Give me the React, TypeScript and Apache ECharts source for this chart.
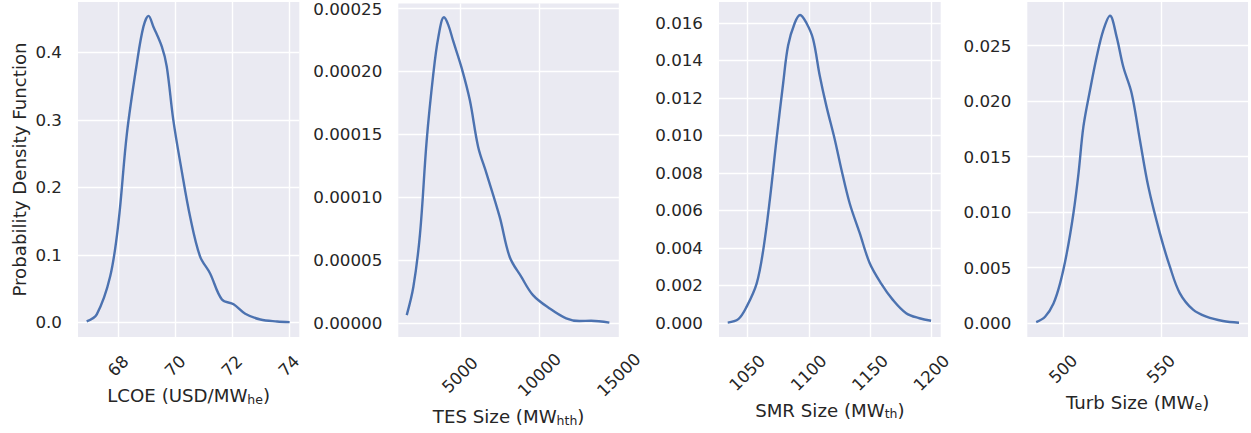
import React, { useEffect, useRef } from "react";
import * as echarts from "echarts";

// Panel 1: LCOE (USD/MWhe)
const LCOE_X = [66.885, 67.24, 67.71, 68.0, 68.3, 68.65, 68.88, 69.06, 69.23, 69.53, 69.7, 69.93, 70.22, 70.52, 70.87, 71.22, 71.64, 72.05, 72.46, 72.99, 73.58, 74.02];
const LCOE_Y = [0.0015, 0.012, 0.068, 0.147, 0.28, 0.384, 0.438, 0.454, 0.438, 0.408, 0.379, 0.3, 0.226, 0.157, 0.098, 0.073, 0.034, 0.027, 0.013, 0.0044, 0.0015, 0.0005];

// Panel 2: TES Size (MWhth)
const TES_X = [1632, 2050, 2469, 2887, 3305, 3619, 3975, 4247, 4561, 5084, 5607, 6130, 6653, 7490, 8117, 8849, 9582, 10628, 11674, 12510, 13243, 14393];
const TES_Y = [0.0000063, 0.0000288, 0.000071, 0.000145, 0.000198, 0.000227, 0.000243, 0.000237, 0.000224, 0.000203, 0.000177, 0.00014, 0.000119, 0.0000842, 0.0000525, 0.0000367, 0.0000222, 0.0000116, 0.0000037, 0.0000016, 0.0000018, 0.0000003];

// Panel 3: SMR Size (MWth)
const SMR_X = [1034.1, 1042.7, 1049.5, 1057.6, 1063, 1068.4, 1073.8, 1079.2, 1083.2, 1088.6, 1092.97, 1098.1, 1103.5, 1108.9, 1114.3, 1121.1, 1126.5, 1133.2, 1141.4, 1149.5, 1158.9, 1168.4, 1179.2, 1190, 1199.5];
const SMR_Y = [0.00002, 0.0002, 0.00087, 0.0021, 0.0039, 0.0066, 0.0098, 0.0128, 0.0148, 0.016, 0.01643, 0.016, 0.01515, 0.0132, 0.01158, 0.0098, 0.0082, 0.0064, 0.0048, 0.0032, 0.0021, 0.00123, 0.00052, 0.00025, 0.00012];

// Panel 4: Turb Size (MWe)
const TURB_X = [486.05, 490.6, 494.9, 498.3, 501.7, 505.1, 507.7, 510.2, 513.6, 517, 520.4, 523.8, 527.2, 530.6, 534.9, 539.1, 543.4, 549.3, 554.4, 559.5, 566.3, 573.1, 581.6, 589.8];
const TURB_Y = [0.00009, 0.00057, 0.00177, 0.0036, 0.0063, 0.0099, 0.0135, 0.0177, 0.021, 0.024, 0.0264, 0.0277, 0.0258, 0.0231, 0.0207, 0.0165, 0.0123, 0.0081, 0.0051, 0.0027, 0.0012, 0.00057, 0.00018, 0.00003];

// Tick labels
const LCOE_XTICKS = [68, 70, 72, 74];
const LCOE_YTICKS = [0, 0.1, 0.2, 0.3, 0.4];
const TES_XTICKS = [5000, 10000, 15000];
const TES_YTICKS = [0, 0.00005, 0.0001, 0.00015, 0.0002, 0.00025];
const SMR_XTICKS = [1050, 1100, 1150, 1200];
const SMR_YTICKS = [0, 0.002, 0.004, 0.006, 0.008, 0.01, 0.012, 0.014, 0.016];
const TURB_XTICKS = [500, 550];
const TURB_YTICKS = [0, 0.005, 0.01, 0.015, 0.02, 0.025];

const FONT = "DejaVu Sans";
const TEXT = "#262626";
const LINE = "#4c72b0";
const TICK_FS = 16.7;
const NAME_FS = 18.2;

const panels = [
  { xs: LCOE_X, ys: LCOE_Y, xt: LCOE_XTICKS, yt: LCOE_YTICKS, xmin: 66.58, xmax: 74.36, ymin: -0.0215, ymax: 0.4745, ydec: 1,
    left: 78, width: 221.3, labelMargin: 29, nameGap: 45, name: ["LCOE (USD/MW", "he", ")"], yName: "Probability Density Function" },
  { xs: TES_X, ys: TES_Y, xt: TES_XTICKS, yt: TES_YTICKS, xmin: 1100, xmax: 15000, ymin: -0.0000111, ymax: 0.000254, ydec: 5,
    left: 398.3, width: 220.7, labelMargin: 38, nameGap: 66.5, name: ["TES Size (MW", "hth", ")"], yName: "" },
  { xs: SMR_X, ys: SMR_Y, xt: SMR_XTICKS, yt: SMR_YTICKS, xmin: 1027, xmax: 1207.3, ymin: -0.00075, ymax: 0.01712, ydec: 3,
    left: 719, width: 221.7, labelMargin: 36, nameGap: 59, name: ["SMR Size (MW", "th", ")"], yName: "" },
  { xs: TURB_X, ys: TURB_Y, xt: TURB_XTICKS, yt: TURB_YTICKS, xmin: 481.5, xmax: 594.4, ymin: -0.00126, ymax: 0.02894, ydec: 3,
    left: 1027.3, width: 220.7, labelMargin: 32, nameGap: 52, name: ["Turb Size (MW", "e", ")"], yName: "" },
];

export default function App() {
  const ref = useRef<HTMLDivElement>(null);
  useEffect(() => {
    document.body.style.margin = "0";
    if (!ref.current) return;
    const chart = echarts.init(ref.current, undefined, { renderer: "svg" });
    const grid = panels.map((p) => ({
      left: p.left, top: 2, width: p.width, height: 335,
      show: true, backgroundColor: "#eaeaf2", borderWidth: 0, containLabel: false,
    }));
    const xAxis = panels.map((p, i) => ({
      type: "value", gridIndex: i, min: p.xmin, max: p.xmax,
      axisLine: { show: false },
      axisTick: { show: false, customValues: p.xt },
      axisLabel: {
        customValues: p.xt, rotate: 45, align: "center", verticalAlign: "middle",
        margin: p.labelMargin, fontSize: TICK_FS, color: TEXT, fontFamily: FONT,
        formatter: (v: number) => String(Math.round(v)),
      },
      splitLine: { show: true, lineStyle: { color: "#ffffff", width: 1.4 } },
      name: `{m|${p.name[0]}}{s|${p.name[1]}}{m|${p.name[2]}}`,
      nameLocation: "middle", nameGap: p.nameGap,
      nameTextStyle: {
        rich: {
          m: { fontSize: NAME_FS, color: TEXT, fontFamily: FONT, lineHeight: 22, verticalAlign: "bottom" },
          s: { fontSize: 12.5, color: TEXT, fontFamily: FONT, lineHeight: 22, verticalAlign: "bottom", padding: [0, 0, -1, 0] },
        },
      },
    }));
    const yAxis = panels.map((p, i) => ({
      type: "value", gridIndex: i, min: p.ymin, max: p.ymax,
      axisLine: { show: false },
      axisTick: { show: false, customValues: p.yt },
      axisLabel: {
        customValues: p.yt, margin: 16, fontSize: TICK_FS, color: TEXT, fontFamily: FONT,
        formatter: (v: number) => v.toFixed(p.ydec),
      },
      splitLine: { show: true, lineStyle: { color: "#ffffff", width: 1.4 } },
      name: p.yName, nameLocation: "middle", nameGap: 50,
      nameTextStyle: { fontSize: NAME_FS, color: TEXT, fontFamily: FONT },
    }));
    const series = panels.map((p, i) => ({
      type: "line", xAxisIndex: i, yAxisIndex: i,
      data: p.xs.map((x, j) => [x, p.ys[j]]),
      smooth: 0.35, showSymbol: false, symbol: "none",
      lineStyle: { color: LINE, width: 2.4 },
    }));
    chart.setOption({ animation: false, grid, xAxis, yAxis, series });
    return () => chart.dispose();
  }, []);
  return <div ref={ref} style={{ width: 1251, height: 433, position: "absolute", left: 0, top: 0 }} />;
}
